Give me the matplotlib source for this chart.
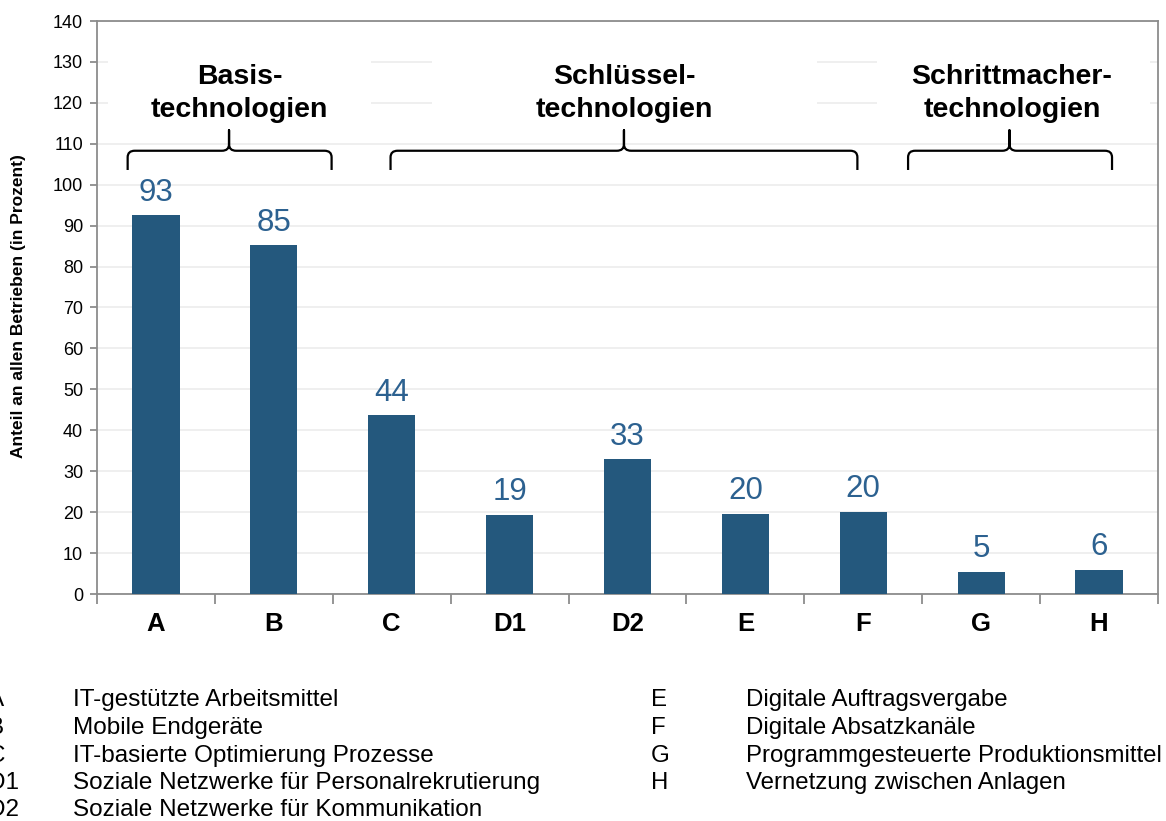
import numpy as np
import matplotlib.pyplot as plt
from matplotlib.patches import Rectangle, PathPatch
from matplotlib.path import Path

plt.rcParams['font.family'] = ['Liberation Sans', 'DejaVu Sans']

categories = ['A', 'B', 'C', 'D1', 'D2', 'E', 'F', 'G', 'H']
values = [92.5, 85.2, 43.7, 19.4, 32.9, 19.6, 20.1, 5.4, 5.9]
value_labels = ['93', '85', '44', '19', '33', '20', '20', '5', '6']

# Gruppen: Titel, Klammer links/rechts/Spitze (in Kategorie-Einheiten)
groups = ['Basis-\ntechnologien', 'Schlüssel-\ntechnologien', 'Schrittmacher-\ntechnologien']
brace_left = [-0.24, 1.99, 6.38]
brace_right = [1.49, 5.95, 8.11]
brace_tip = [0.62, 3.97, 7.24]
label_center = [0.71, 3.97, 7.26]
box_left = [-0.41, 2.34, 6.12]
box_right = [1.82, 5.61, 8.43]

legend_left = [('A', 'IT-gestützte Arbeitsmittel'),
               ('B', 'Mobile Endgeräte'),
               ('C', 'IT-basierte Optimierung Prozesse'),
               ('D1', 'Soziale Netzwerke für Personalrekrutierung'),
               ('D2', 'Soziale Netzwerke für Kommunikation')]
legend_right = [('E', 'Digitale Auftragsvergabe'),
                ('F', 'Digitale Absatzkanäle'),
                ('G', 'Programmgesteuerte Produktionsmittel'),
                ('H', 'Vernetzung zwischen Anlagen')]

bar_color = '#24587D'
label_color = '#2C6190'
W, H = 1166, 821

fig = plt.figure(figsize=(W / 100, H / 100), dpi=100, facecolor='white')
ax = fig.add_axes([97 / W, 1 - 594 / H, (1158 - 97) / W, (594 - 21) / H])

x = np.arange(len(categories))
ax.bar(x, values, width=0.4, color=bar_color, zorder=3)

for xi, v, lab in zip(x, values, value_labels):
    ax.annotate(lab, (xi, v), xytext=(0, 10.5), textcoords='offset points',
                ha='center', va='baseline', fontsize=22.5, color=label_color, zorder=4)

ax.set_xlim(-0.5, len(categories) - 0.5)
ax.set_ylim(0, 140)
ax.set_yticks(np.arange(0, 141, 10))
ax.grid(axis='y', color='#ECECEC', linewidth=1.2, zorder=0)
ax.set_axisbelow(True)

ax.set_xticks(np.arange(-0.5, len(categories)), labels=[''] * (len(categories) + 1))
ax.set_xticks(x, labels=categories, minor=True)
ax.tick_params(axis='x', which='major', length=7, color='#8C8C8C', width=1.3)
ax.tick_params(axis='x', which='minor', length=0, pad=13, labelsize=18.5)
for t in ax.get_xticklabels(minor=True):
    t.set_fontweight('bold')
ax.tick_params(axis='y', length=5, color='#8C8C8C', width=1.3, labelsize=13, pad=5)

for s in ax.spines.values():
    s.set_color('#8C8C8C')
    s.set_linewidth(1.3)

fig.text(19 / W, 1 - 306 / H, 'Anteil an allen Betrieben (in Prozent)', rotation=90,
         ha='center', va='center', fontsize=12.5, fontweight='bold')

# geschweifte Klammer als Pfad
def brace(l, r, t, yb=103.6, yh=108.3, yt=113.3, rx=0.06, ry=1.6):
    verts = [(l, yb), (l, yh - ry), (l, yh), (l + rx, yh),
             (t - rx, yh), (t, yh), (t, yh + ry), (t, yt),
             (t, yh + ry), (t, yh), (t + rx, yh),
             (r - rx, yh), (r, yh), (r, yh - ry), (r, yb)]
    codes = [Path.MOVETO, Path.LINETO, Path.CURVE3, Path.CURVE3,
             Path.LINETO, Path.CURVE3, Path.CURVE3, Path.LINETO,
             Path.LINETO, Path.CURVE3, Path.CURVE3,
             Path.LINETO, Path.CURVE3, Path.CURVE3, Path.LINETO]
    return PathPatch(Path(verts, codes), fill=False, edgecolor='black', lw=1.6,
                     joinstyle='round', zorder=5)

for i, g in enumerate(groups):
    ax.add_patch(Rectangle((box_left[i], 114), box_right[i] - box_left[i], 24,
                           facecolor='white', edgecolor='none', zorder=1))
    ax.text(label_center[i], 129.6, g, ha='center', va='top', fontsize=20.5,
            fontweight='bold', linespacing=1.38, zorder=5)
    ax.add_patch(brace(brace_left[i], brace_right[i], brace_tip[i]))

row_y = [700, 728, 755.5, 783, 810]
for (k, d), yy in zip(legend_left, row_y):
    fig.text(-12 / W, 1 - yy / H, k, ha='left', va='center', fontsize=17.5)
    fig.text(73 / W, 1 - yy / H, d, ha='left', va='center', fontsize=17.5)
for (k, d), yy in zip(legend_right, row_y):
    fig.text(651 / W, 1 - yy / H, k, ha='left', va='center', fontsize=17.3)
    fig.text(746 / W, 1 - yy / H, d, ha='left', va='center', fontsize=17.3)

fig.savefig('out.png', dpi=100, facecolor='white')
